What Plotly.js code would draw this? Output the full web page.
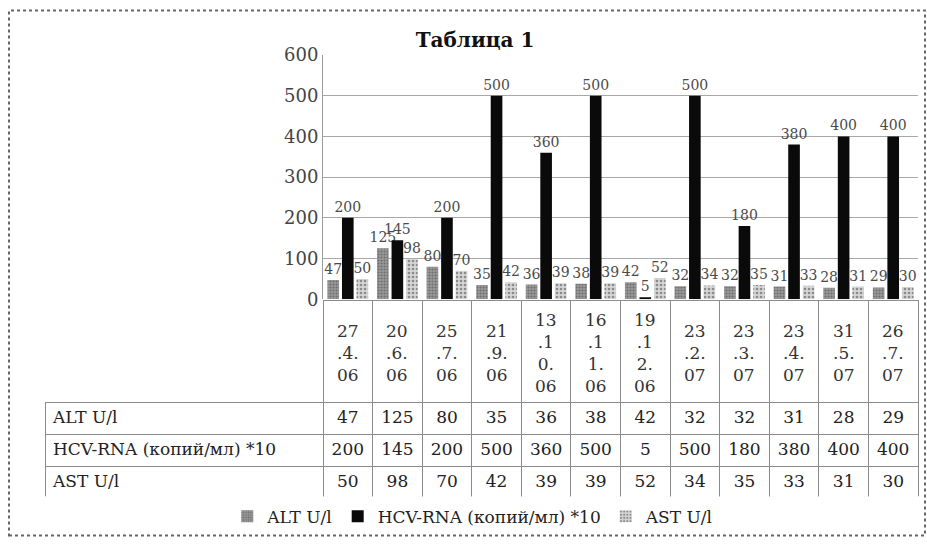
<!DOCTYPE html>
<html>
<head>
<meta charset="utf-8">
<script src="https://cdn.plot.ly/plotly-3.0.1.min.js"></script>
<style>html,body{margin:0;padding:0;background:#fff;}#chart{width:927px;height:544px;}</style>
</head>
<body>
<div id="chart"></div>
<script>
// ---- data ----
const categories = ["27.4.06","20.6.06","25.7.06","21.9.06","13.10.06","16.11.06","19.12.06","23.2.07","23.3.07","23.4.07","31.5.07","26.7.07"];
const categoryLabels = ["27<br>.4.<br>06","20<br>.6.<br>06","25<br>.7.<br>06","21<br>.9.<br>06","13<br>.1<br>0.<br>06","16<br>.1<br>1.<br>06","19<br>.1<br>2.<br>06","23<br>.2.<br>07","23<br>.3.<br>07","23<br>.4.<br>07","31<br>.5.<br>07","26<br>.7.<br>07"];
const seriesNames = ["ALT U/l","HCV-RNA (копий/мл) *10","AST U/l"];
const alt = [47,125,80,35,36,38,42,32,32,31,28,29];
const hcv = [200,145,200,500,360,500,5,500,180,380,400,400];
const ast = [50,98,70,42,39,39,52,34,35,33,31,30];
const yTicks = [0,100,200,300,400,500,600];

// ---- layout geometry (pixels -> paper) ----
const W = 927, H = 544, ML = 45, MR = 9, MT = 55, MB = 42;
const PW = W - ML - MR, PH = H - MT - MB;
const px = v => (v - ML) / PW;
const py = v => (H - MB - v) / PH;

const SERIF = "'DejaVu Serif', 'Liberation Serif', serif";
const labelFont = {family: SERIF, size: 14, color: "#4a4a4a"};

function barTrace(name, vals, color, pattern) {
  const t = {
    type: "bar", name: name, x: categories, y: vals,
    text: vals.map(String), textposition: "outside", constraintext: "none",
    cliponaxis: false, textfont: labelFont,
    marker: {color: color, line: {width: 0}},
    xaxis: "x", yaxis: "y", hoverinfo: "skip"
  };
  if (pattern) t.marker.pattern = pattern;
  return t;
}

const traces = [
  barTrace(seriesNames[0], alt, "#8a8a8a", {shape: ".", fgcolor: "#6e6e6e", bgcolor: "#9a9a9a", size: 3, solidity: 0.4}),
  barTrace(seriesNames[1], hcv, "#0a0a0a"),
  barTrace(seriesNames[2], ast, "#cfcfcf", {shape: ".", fgcolor: "#8a8a8a", bgcolor: "#d6d6d6", size: 4, solidity: 0.35})
];

// data table
const colWidths = [px(323) - px(ML)].concat(categories.map(() => (1 - px(323)) / categories.length));
const tableCols = [seriesNames].concat(categories.map((c, i) => [alt[i], hcv[i], ast[i]].map(String)));
const headerLine = ["rgba(0,0,0,0)"].concat(categories.map(() => "#8c8c8c"));
traces.push({
  type: "table",
  domain: {x: [0, 1], y: [0, py(303)]},
  columnwidth: colWidths,
  header: {
    values: [""].concat(categories.map(() => "")),
    height: 102,
    fill: {color: "rgba(0,0,0,0)"},
    line: {color: headerLine, width: 1},
    font: {family: SERIF, size: 16, color: "#222"}
  },
  cells: {
    values: tableCols,
    height: 32,
    align: ["left"].concat(categories.map(() => "center")),
    fill: {color: "rgba(0,0,0,0)"},
    line: {color: "#8c8c8c", width: 1},
    font: {family: SERIF, size: 17, color: "#222"}
  },
  hoverinfo: "skip"
});

const annotations = categories.map((c, i) => ({
  x: c, xref: "x", y: py(356), yref: "paper",
  text: categoryLabels[i], showarrow: false,
  xanchor: "center", yanchor: "middle", align: "center",
  font: {family: SERIF, size: 17, color: "#333"}
}));

const layout = {
  width: W, height: H,
  margin: {l: ML, r: MR, t: MT, b: MB, pad: 0},
  paper_bgcolor: "#ffffff", plot_bgcolor: "rgba(0,0,0,0)",
  title: {text: "<b>Таблица 1</b>", x: 475 / W, xref: "container", xanchor: "center",
          y: 1 - 40 / H, yref: "container", yanchor: "middle",
          font: {family: SERIF, size: 20, color: "#111"}},
  barmode: "group", bargap: 0.12, bargroupgap: 0.2,
  showlegend: true,
  legend: {orientation: "h", x: 0.49, xanchor: "center", y: py(522), yanchor: "middle",
           font: {family: SERIF, size: 17, color: "#222"}, bgcolor: "rgba(0,0,0,0)",
           traceorder: "normal", itemwidth: 30},
  xaxis: {domain: [px(323), 1], type: "category", showticklabels: false, ticks: "",
          showgrid: false, zeroline: false, showline: false, fixedrange: true},
  yaxis: {domain: [py(302), 1], range: [0, 600], tickvals: yTicks, ticktext: yTicks.map(String),
          showgrid: true, gridcolor: "#a8a8a8", gridwidth: 1, zeroline: false,
          showline: true, linecolor: "#9a9a9a", linewidth: 1, ticks: "", ticklen: 0,
          tickfont: {family: SERIF, size: 18, color: "#444"}, fixedrange: true},
  annotations: annotations,
  shapes: [{type: "rect", xref: "paper", yref: "paper",
            x0: px(9), x1: px(925), y0: py(541), y1: py(10),
            line: {color: "#666", width: 2, dash: "dot"}, fillcolor: "rgba(0,0,0,0)", layer: "below"}]
};

Plotly.newPlot("chart", traces, layout, {displayModeBar: false, staticPlot: true});
</script>
</body>
</html>
